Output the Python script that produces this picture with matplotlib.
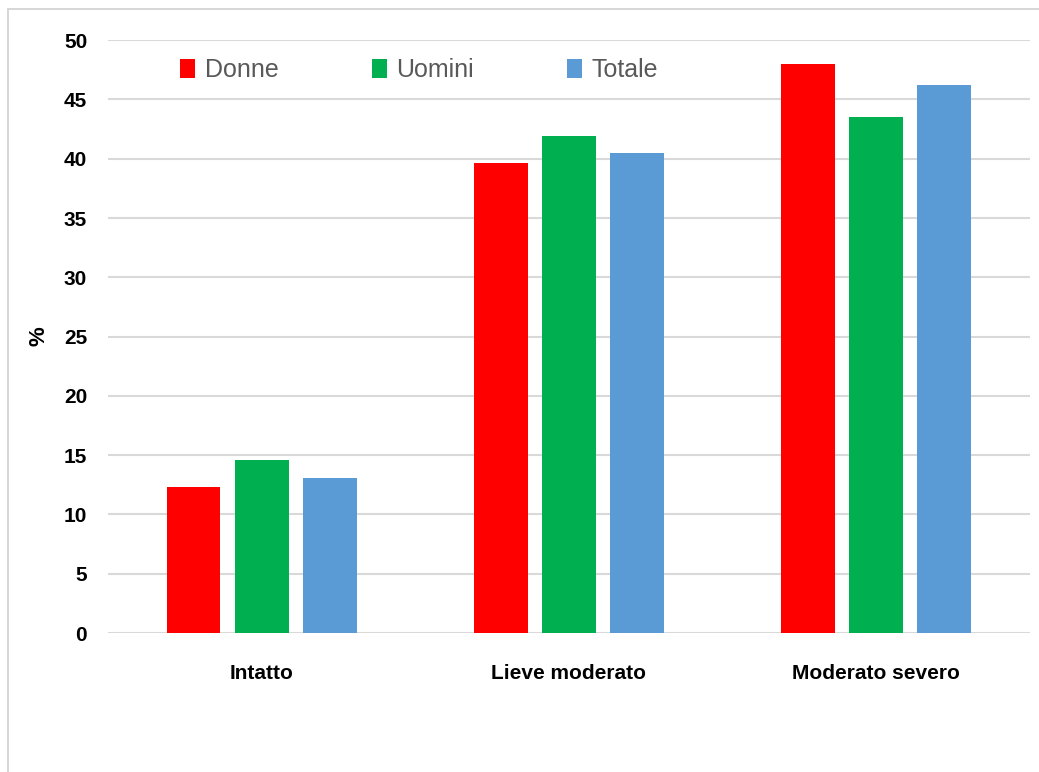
import numpy as np
import matplotlib.pyplot as plt
from matplotlib.patches import Rectangle

categorie = ['Intatto', 'Lieve moderato', 'Moderato severo']
donne = [12.3, 39.6, 48.0]
uomini = [14.6, 41.9, 43.5]
totale = [13.1, 40.5, 46.2]
serie = ['Donne', 'Uomini', 'Totale']
colori = ['#FF0000', '#00B050', '#5B9BD5']

plt.rcParams['font.family'] = ['Liberation Sans Narrow', 'Liberation Sans', 'DejaVu Sans']

fig = plt.figure(figsize=(10.39, 7.72), dpi=100)
ax = fig.add_axes([0.104, 0.180, 0.887, 0.768])

x = np.arange(len(categorie))
w = 0.175
step = 0.222
for i, (vals, lab, col) in enumerate(zip([donne, uomini, totale], serie, colori)):
    ax.bar(x + (i - 1) * step, vals, w, color=col, label=lab, zorder=3)

ax.set_xlim(-0.5, 2.5)
ax.set_ylim(0, 50)
ax.set_yticks(np.arange(0, 51, 5))
ax.set_xticks(x)
ax.set_xticklabels(categorie, fontsize=15, fontweight='bold')
for t in ax.get_yticklabels():
    t.set_fontsize(15)
    t.set_fontweight('bold')
ax.tick_params(length=0)
ax.tick_params(axis='x', pad=22)
ax.tick_params(axis='y', pad=15)
ax.yaxis.grid(True, color='#d9d9d9', linewidth=1.5, zorder=0)
for s in ax.spines.values():
    s.set_visible(False)
ax.set_ylabel('%', fontsize=16, fontweight='bold', labelpad=10)

leg = ax.legend(loc='upper left', bbox_to_anchor=(0.054, 1.008), ncol=3, frameon=False,
                fontsize=18, handlelength=0.6, handleheight=0.8, handletextpad=0.4,
                columnspacing=3.7)
for t in leg.get_texts():
    t.set_color('#595959')

fig.patches.append(Rectangle((0.008, -0.1), 1.1, 1.088, transform=fig.transFigure,
                             fill=False, edgecolor='#d0d0d0', linewidth=1.2))

plt.savefig('out.png', dpi=100)
